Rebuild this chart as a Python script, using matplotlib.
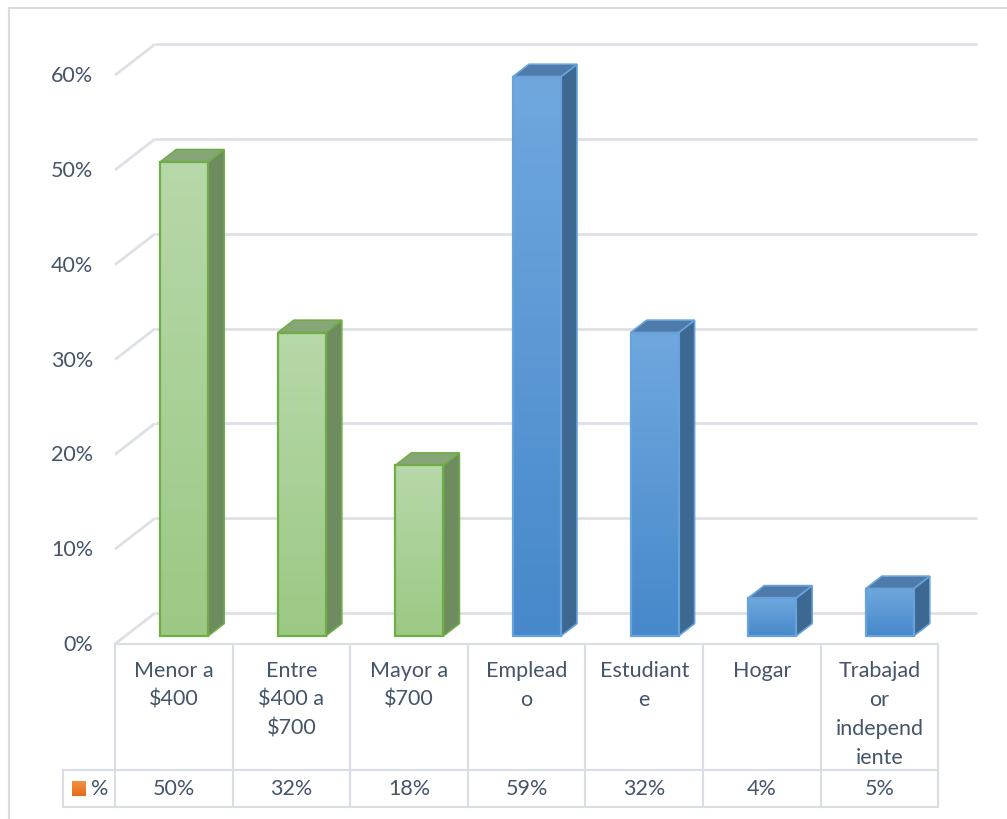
import numpy as np
import matplotlib
matplotlib.use("Agg")
import matplotlib.pyplot as plt
from matplotlib.patches import Polygon, Rectangle
from matplotlib.colors import LinearSegmentedColormap

# ---- data -------------------------------------------------------------
categories = ["Menor a\n$400", "Entre\n$400 a\n$700", "Mayor a\n$700",
              "Emplead\no", "Estudiant\ne", "Hogar",
              "Trabajad\nor\nindepend\niente"]
values = [50, 32, 18, 59, 32, 4, 5]
groups = ["ingreso", "ingreso", "ingreso",
          "ocupacion", "ocupacion", "ocupacion", "ocupacion"]
series_name = "%"
y_ticks = [0, 10, 20, 30, 40, 50, 60]
y_tick_labels = ["0%", "10%", "20%", "30%", "40%", "50%", "60%"]

# ---- styling ----------------------------------------------------------
TEXT = "#44546A"
GRID = "#DDE1E7"
TABLE = "#D9DEE4"
palette = {
    "ingreso": dict(front=("#B7D8A9", "#9BC984"), side="#6F8C60",
                    top="#86A677", edge="#70AD47"),
    "ocupacion": dict(front=("#70A8DE", "#4688CA"), side="#3C6892",
                      top="#4E7BA9", edge="#67A3DA"),
}
FONT = ["Lato", "DejaVu Sans"]
FS = 15.5

W, H = 1007, 820
fig = plt.figure(figsize=(W / 100, H / 100), dpi=100)
ax = fig.add_axes([0, 0, 1, 1])

# one category = COL px, one percent = PCT px; origin at the front-left floor corner
COL, PCT = 117.6, 9.48
X0, Y0 = 115, 645
def px_x(p):
    return (p - X0) / COL
def px_y(p):
    return (Y0 - p) / PCT

DX, DY = 40 / COL, 31 / PCT          # floor depth
F0, F1 = 0.26, 0.66                  # bar front/back depth fraction
BW = 48 / COL                        # bar width
n = len(values)

# ---- walls / gridlines -----------------------------------------------
x_end = px_x(977)
for v in y_ticks:
    ax.plot([0, DX], [v, v + DY], color=GRID, lw=2, zorder=1,
            solid_capstyle="butt")
    ax.plot([DX, x_end], [v + DY, v + DY], color=GRID, lw=2, zorder=1,
            solid_capstyle="butt")

for v, lab in zip(y_ticks, y_tick_labels):
    ax.text(px_x(93), v, lab, ha="right", va="center", color=TEXT,
            fontsize=FS, family=FONT)

# ---- 3D bars ---------------------------------------------------------
ddx, ddy = (F1 - F0) * DX, (F1 - F0) * DY
grad = np.linspace(1, 0, 256).reshape(-1, 1)
for i, (v, g) in enumerate(zip(values, groups)):
    c = palette[g]
    xc = i + 0.5 + F0 * DX
    xl, xr = xc - BW / 2, xc + BW / 2
    yb = F0 * DY
    yt = yb + v
    # side face
    side = Polygon([(xr, yb), (xr + ddx, yb + ddy), (xr + ddx, yt + ddy), (xr, yt)],
                   closed=True, facecolor=c["side"], edgecolor=c["edge"],
                   lw=1.2, zorder=3)
    ax.add_patch(side)
    # top face
    top = Polygon([(xl, yt), (xl + ddx, yt + ddy), (xr + ddx, yt + ddy), (xr, yt)],
                  closed=True, facecolor=c["top"], edgecolor=c["edge"],
                  lw=1.2, zorder=3)
    ax.add_patch(top)
    # front face with a vertical gradient
    cmap = LinearSegmentedColormap.from_list("f", [c["front"][1], c["front"][0]])
    front = Rectangle((xl, yb), BW, v, facecolor="none", edgecolor=c["edge"],
                      lw=1.6, zorder=5)
    ax.add_patch(front)
    im = ax.imshow(grad, extent=[xl, xr, yb, yt], cmap=cmap, aspect="auto",
                   origin="upper", zorder=4, interpolation="bilinear")
    im.set_clip_path(front)

# ---- data table ------------------------------------------------------
row1 = px_y(771)
row2 = px_y(808)
key_left = px_x(63)
ax.plot([0, n], [0, 0], color=TABLE, lw=1.5, zorder=2)
ax.plot([key_left, n], [row1, row1], color=TABLE, lw=1.5, zorder=2)
ax.plot([key_left, n], [row2, row2], color=TABLE, lw=1.5, zorder=2)
for k in range(n + 1):
    ax.plot([k, k], [0, row2], color=TABLE, lw=1.5, zorder=2)
ax.plot([key_left, key_left], [row1, row2], color=TABLE, lw=1.5, zorder=2)

for i, (cat, v) in enumerate(zip(categories, values)):
    ax.text(i + 0.5, px_y(661), cat, ha="center", va="top", color=TEXT,
            fontsize=FS, family=FONT, linespacing=1.56)
    ax.text(i + 0.5, (row1 + row2) / 2, f"{v}%", ha="center", va="center",
            color=TEXT, fontsize=FS, family=FONT)

# legend key
kx0, kx1 = px_x(72), px_x(86)
ky0, ky1 = px_y(797), px_y(782)
key_cmap = LinearSegmentedColormap.from_list("k", ["#E46A1B", "#F59145"])
key = Rectangle((kx0, ky0), kx1 - kx0, ky1 - ky0, facecolor="none",
                edgecolor="none", zorder=5)
ax.add_patch(key)
kim = ax.imshow(grad, extent=[kx0, kx1, ky0, ky1], cmap=key_cmap, aspect="auto",
                origin="upper", zorder=5)
kim.set_clip_path(key)
ax.text(px_x(91), (row1 + row2) / 2, series_name, ha="left", va="center",
        color=TEXT, fontsize=FS, family=FONT)

# chart frame
fx, fy = px_x(9), px_y(9)
ax.plot([fx, fx], [fy, px_y(H + 5)], color="#D9DDE2", lw=1.5, zorder=1)
ax.plot([fx, px_x(W + 5)], [fy, fy], color="#D9DDE2", lw=1.5, zorder=1)

ax.set_xlim(px_x(0), px_x(W))
ax.set_ylim(px_y(H), px_y(0))
ax.axis("off")

fig.savefig("out.png", dpi=100, facecolor="white")
